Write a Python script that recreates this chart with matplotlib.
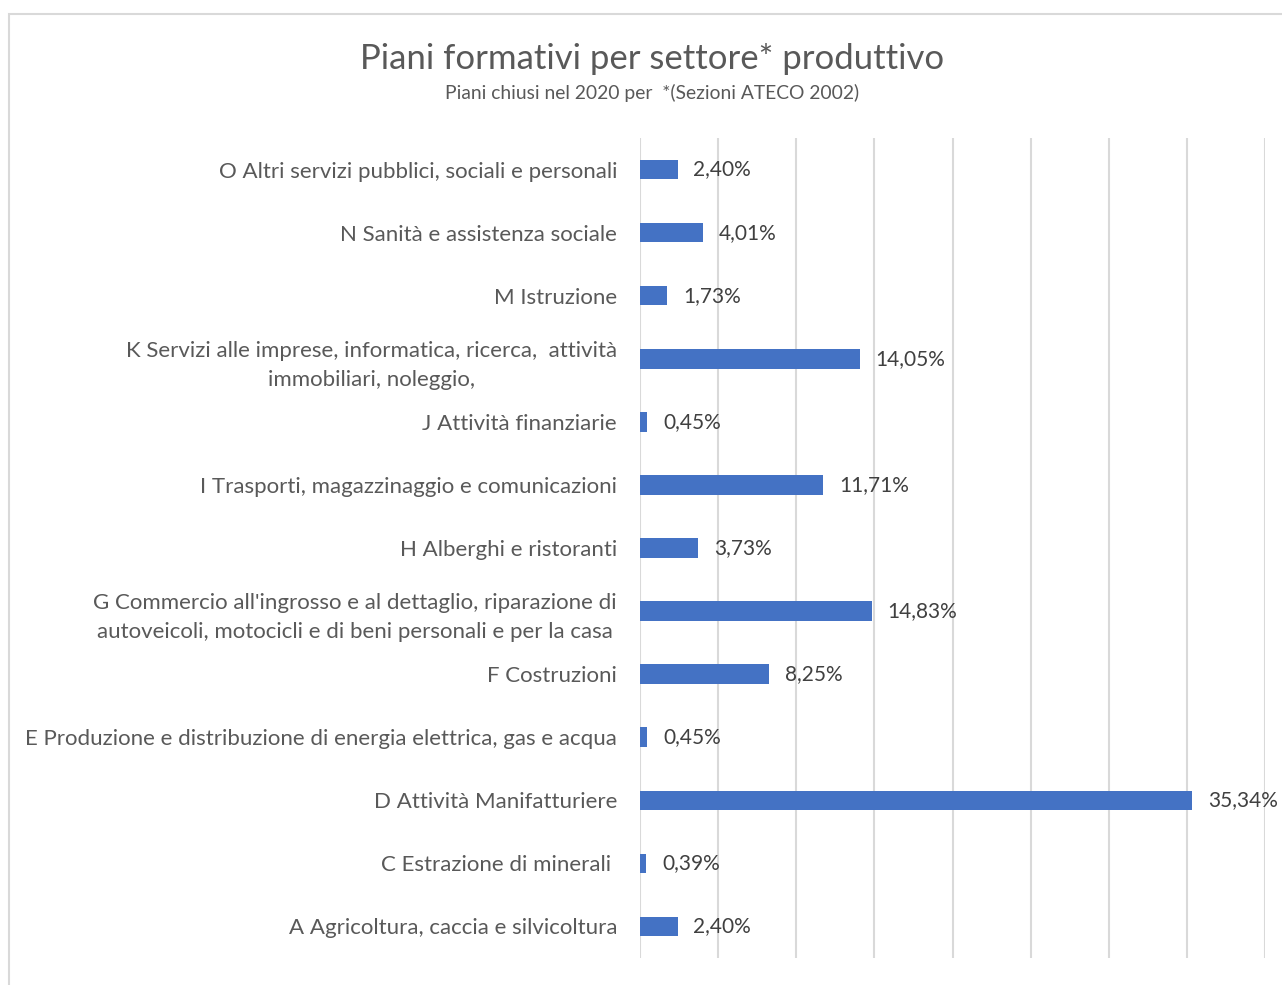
import matplotlib.pyplot as plt
from matplotlib.patches import Rectangle

plt.rcParams['font.family'] = ['Lato', 'DejaVu Sans']

# sectors, top to bottom as shown
sectors = [
    "O Altri servizi pubblici, sociali e personali",
    "N Sanità e assistenza sociale",
    "M Istruzione",
    "K Servizi alle imprese, informatica, ricerca,  attività\nimmobiliari, noleggio,",
    "J Attività finanziarie",
    "I Trasporti, magazzinaggio e comunicazioni",
    "H Alberghi e ristoranti",
    "G Commercio all'ingrosso e al dettaglio, riparazione di\nautoveicoli, motocicli e di beni personali e per la casa",
    "F Costruzioni",
    "E Produzione e distribuzione di energia elettrica, gas e acqua",
    "D Attività Manifatturiere",
    "C Estrazione di minerali ",
    "A Agricoltura, caccia e silvicoltura",
]
shares = [2.40, 4.01, 1.73, 14.05, 0.45, 11.71, 3.73, 14.83, 8.25, 0.45, 35.34, 0.39, 2.40]
x_ticks = [0, 5, 10, 15, 20, 25, 30, 35, 40]

W, H = 1282, 985
fig = plt.figure(figsize=(W / 100, H / 100), dpi=100)

# light frame around the chart area
fig.patches.append(Rectangle((9 / W, -0.1), 1.2, 1 - 14 / H + 0.1,
                             transform=fig.transFigure, fill=False,
                             edgecolor='#d9d9d9', linewidth=1.5))

ax = fig.add_axes([640 / W, 1 - 958 / H, 625 / W, 820 / H])
pos = list(range(len(sectors)))
ax.barh(pos, shares, height=0.31, color='#4472C4', zorder=3)

ax.set_xlim(0, 40)
ax.set_ylim(len(sectors) - 0.5, -0.5)
ax.set_xticks(x_ticks)
ax.set_xticklabels([])
ax.tick_params(axis='x', length=0)
ax.tick_params(axis='y', length=0, pad=16.5)
ax.grid(axis='x', color='#d9d9d9', linewidth=1.5, zorder=0)
for s in ax.spines.values():
    s.set_visible(False)

ax.set_yticks(pos)
ax.set_yticklabels(sectors, fontsize=16, color='#595959',
                   multialignment='center', linespacing=1.55)

for p, v in zip(pos, shares):
    ax.annotate(f"{v:.2f}%".replace('.', ','), (v, p), xytext=(11.5, 0),
                textcoords='offset points', va='center', ha='left',
                fontsize=15, color='#404040', zorder=4)

fig.text(652 / W, 1 - 59 / H, "Piani formativi per settore* produttivo",
         ha='center', va='center', fontsize=25, color='#595959')
fig.text(652 / W, 1 - 93 / H, "Piani chiusi nel 2020 per  *(Sezioni ATECO 2002)",
         ha='center', va='center', fontsize=13.9, color='#595959')

fig.savefig('out.png', dpi=100, facecolor='white')
